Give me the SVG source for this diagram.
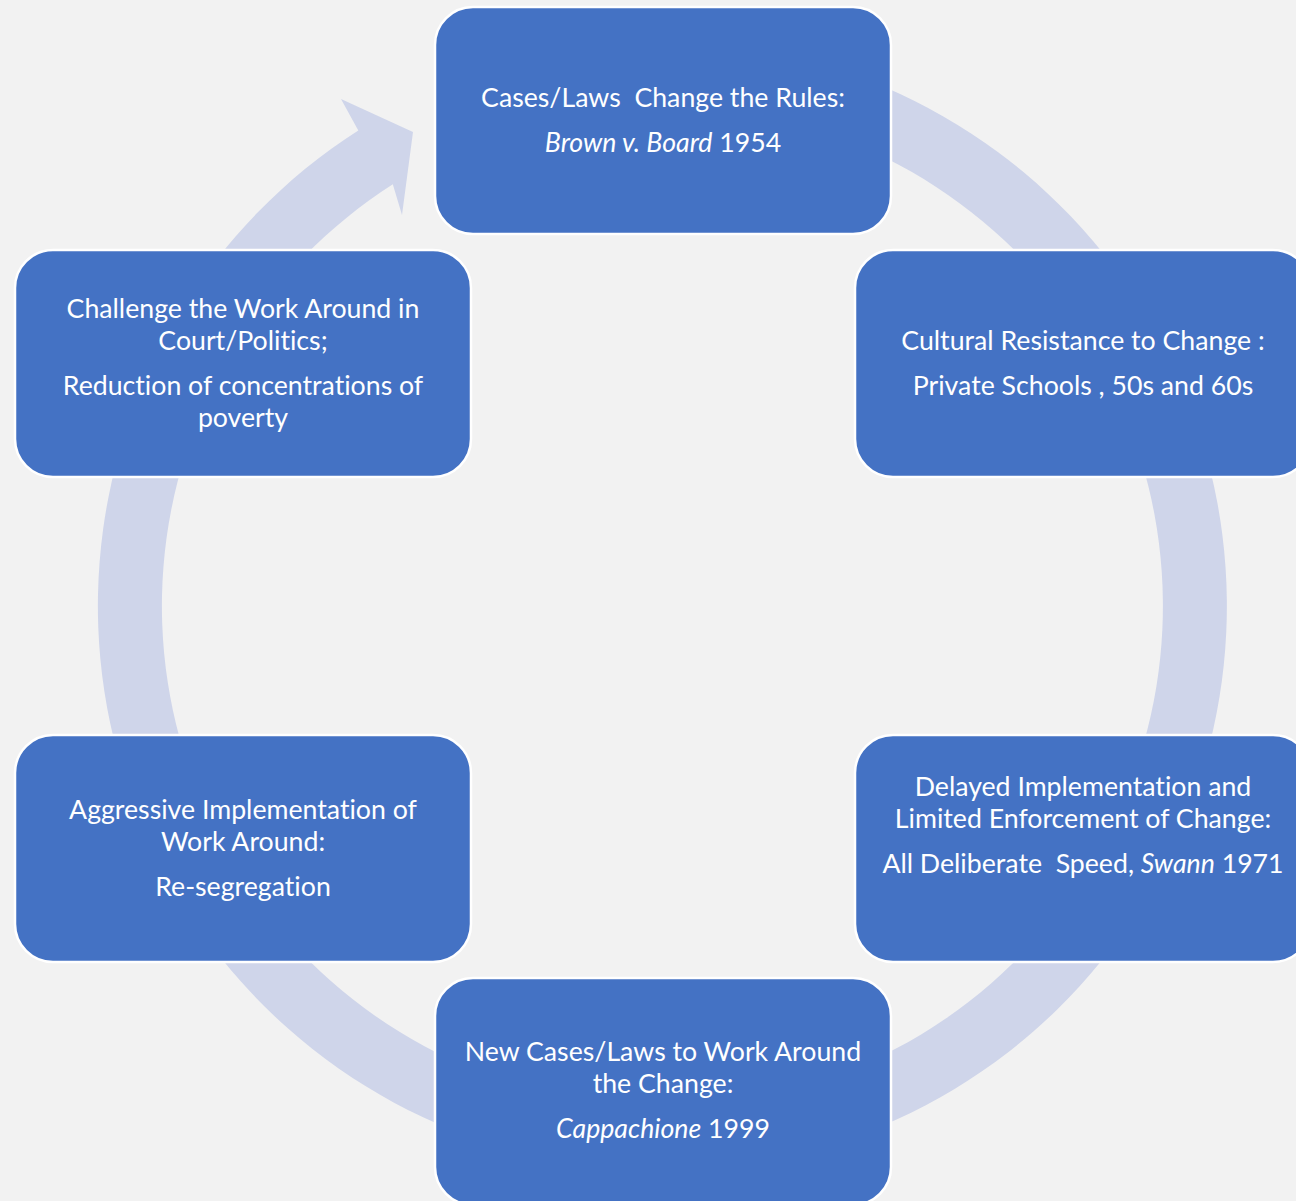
<svg xmlns="http://www.w3.org/2000/svg" width="1296" height="1201" viewBox="0 0 1296 1201">
<style>
.node rect{fill:#4472C4;stroke:#FFFFFF;stroke-width:2.5}
.node text{font-family:Lato,"Open Sans","Liberation Sans",sans-serif;font-size:26.7px;fill:#FFFFFF;text-anchor:middle;white-space:pre;font-variant-ligatures:none}
.it{font-style:italic}
.ring{fill:#CFD5EA;stroke:none}
</style>
<rect x="0" y="0" width="1296" height="1201" fill="#F2F2F2"/>
<g id="connectors">
<path class="ring" d="M760.5,50.1 A564.5,564.5 0 1 1 358.3,130.4 L341,99 L413,132 L402,215 L392.8,184.3 A500.5,500.5 0 1 0 749.4,113.1 Z"/>
</g>
<g id="node1" class="node">
<rect x="435" y="7" width="456" height="227" rx="38" ry="38"/>
<text x="663" y="107">Cases/Laws  Change the Rules:</text>
<text x="663" y="152"><tspan class="it">Brown v. Board</tspan> 1954</text>
</g>
<g id="node2" class="node">
<rect x="855" y="250" width="456" height="227" rx="38" ry="38"/>
<text x="1083" y="350">Cultural Resistance to Change :</text>
<text x="1083" y="395">Private Schools , 50s and 60s</text>
</g>
<g id="node3" class="node">
<rect x="855" y="735" width="456" height="227" rx="38" ry="38"/>
<text x="1083" y="796">Delayed Implementation and</text>
<text x="1083" y="828">Limited Enforcement of Change:</text>
<text x="1083" y="873">All Deliberate  Speed, <tspan class="it">Swann</tspan> 1971</text>
</g>
<g id="node4" class="node">
<rect x="435" y="978" width="456" height="227" rx="38" ry="38"/>
<text x="663" y="1061">New Cases/Laws to Work Around</text>
<text x="663" y="1093">the Change:</text>
<text x="663" y="1138"><tspan class="it">Cappachione</tspan> 1999</text>
</g>
<g id="node5" class="node">
<rect x="15" y="735" width="456" height="227" rx="38" ry="38"/>
<text x="243" y="819">Aggressive Implementation of</text>
<text x="243" y="851">Work Around:</text>
<text x="243" y="896">Re-segregation</text>
</g>
<g id="node6" class="node">
<rect x="15" y="250" width="456" height="227" rx="38" ry="38"/>
<text x="243" y="318">Challenge the Work Around in</text>
<text x="243" y="350">Court/Politics;</text>
<text x="243" y="395">Reduction of concentrations of</text>
<text x="243" y="427">poverty</text>
</g>
</svg>
